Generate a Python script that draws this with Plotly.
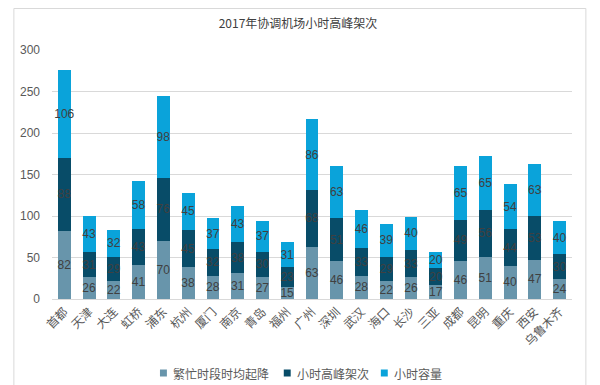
import plotly.graph_objects as go

airports = ["首都", "天津", "大连", "虹桥", "浦东", "杭州", "厦门", "南京", "青岛", "福州", "广州",
            "深圳", "武汉", "海口", "长沙", "三亚", "成都", "昆明", "重庆", "西安", "乌鲁木齐"]
busy_avg = [82, 26, 22, 41, 70, 38, 28, 31, 27, 15, 63, 46, 28, 22, 26, 17, 46, 51, 40, 47, 24]
peak_hour = [88, 31, 29, 43, 76, 45, 32, 38, 30, 23, 68, 51, 33, 29, 33, 20, 49, 56, 44, 53, 30]
capacity = [106, 43, 32, 58, 98, 45, 37, 43, 37, 31, 86, 63, 46, 39, 40, 20, 65, 65, 54, 63, 40]
tick_vals = [0, 50, 100, 150, 200, 250, 300]

names = ["繁忙时段时均起降", "小时高峰架次", "小时容量"]
colors = ["#6895AB", "#084C68", "#0AA3DA"]
series = [busy_avg, peak_hour, capacity]

FONT = "Liberation Sans, Noto Sans CJK SC, sans-serif"
CJK = "Noto Sans CJK SC, sans-serif"

fig = go.Figure()
for name, col, vals in zip(names, colors, series):
    fig.add_trace(go.Bar(
        x=airports, y=vals, name=name, marker=dict(color=col, line=dict(width=0)),
        text=[str(v) for v in vals], textposition="inside", insidetextanchor="middle",
        textangle=0, constraintext="none",
        textfont=dict(color="#404040", size=12, family=FONT),
        hoverinfo="x+y+name", showlegend=False,
    ))

L, R, T, B = 39, 564, 42, 291
W, H = 600, 385
pw, ph = R - L, B - T

def px(x):
    return (x - L) / pw

def py(y):
    return (B - y) / ph

# manual legend (keys + labels), positioned like the reference
legend_x = [148, 273, 371]
legend_y = 365
shapes = [dict(type="rect", xref="paper", yref="paper",
               x0=px(0.5), x1=px(578), y0=py(0.5), y1=py(383),
               line=dict(color="#D9D9D9", width=1), fillcolor="rgba(0,0,0,0)", layer="below")]
annotations = []
for name, col, lx in zip(names, colors, legend_x):
    shapes.append(dict(type="rect", xref="paper", yref="paper",
                       x0=px(lx), x1=px(lx + 7), y0=py(legend_y + 3.5), y1=py(legend_y - 3.5),
                       line=dict(width=0), fillcolor=col))
    annotations.append(dict(text=name, xref="paper", yref="paper", x=px(lx + 11), y=py(legend_y),
                            xanchor="left", yanchor="middle", showarrow=False,
                            font=dict(size=12, color="#595959", family=CJK)))

fig.update_layout(
    width=W, height=H,
    margin=dict(l=L, r=W - R, t=T, b=H - B, pad=0),
    barmode="stack", bargap=0.48,
    paper_bgcolor="white", plot_bgcolor="white",
    font=dict(family=FONT, color="#595959", size=12),
    title=dict(text="2017年协调机场小时高峰架次", x=290 / W, xanchor="center",
               y=1 - 16 / H, yanchor="middle",
               font=dict(size=12, color="#404040", family=CJK)),
    xaxis=dict(tickangle=-45, showline=True, linecolor="#D9D9D9", linewidth=1,
               ticks="", showgrid=False,
               tickfont=dict(size=12, color="#595959", family=CJK)),
    yaxis=dict(range=[0, 300], tickvals=tick_vals, showgrid=True, gridcolor="#D9D9D9",
               gridwidth=1, zeroline=False, showline=False, ticks="",
               tickfont=dict(size=12, color="#595959"), ticklabelstandoff=11),
    showlegend=False,
    shapes=shapes,
    annotations=annotations,
)

fig.write_html("out.html")
